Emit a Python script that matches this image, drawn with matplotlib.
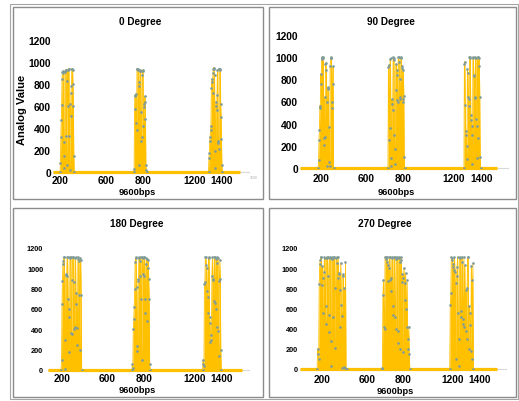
import matplotlib.pyplot as plt
from matplotlib.patches import Rectangle
import numpy as np

plt.rcParams['font.family'] = ['Liberation Sans', 'DejaVu Sans']

# ---- data ----
titles = ['0 Degree', '90 Degree', '180 Degree', '270 Degree']
tick_pos = [200, 540, 815, 1195, 1400]
tick_labels = ['200', '600', '800', '1200', '1400']
y_ticks = [0, 200, 400, 600, 800, 1000, 1200]

# first / last sample of each recording
rec_start = [148, 42, 95, 33]
rec_end = [1533, 1520, 1550, 1529]
sample_step = [3, 3.2, 3.5, 4]

# start sample of each burst
p1_starts = [200, 746, 1300]
p2_starts = [178, 701, 1270]
p3_starts = [193, 724, 1254]
p4_starts = [163, 656, 1172]

p1_b1 = [0, 80, 320, 470, 610, 850, 910, 920, 900, 270, 150, 40, 910, 920, 930, 930, 330, 60,
         830, 930, 600, 940, 940, 330, 20, 620, 510, 720, 780, 940, 940, 930, 800, 600, 150, 0]
p1_b2 = [0, 30, 570, 700, 690, 710, 450, 380, 940, 940, 930, 940, 780, 820, 60, 920, 930, 920,
         550, 280, 320, 880, 930, 920, 420, 620, 590, 640, 690, 480, 60, 20, 0]
p1_b3 = [0, 130, 170, 280, 320, 380, 420, 760, 820, 850, 720, 900, 940, 950, 940, 880, 190, 40,
         600, 640, 560, 700, 930, 280, 260, 210, 940, 940, 930, 940, 620, 500, 300, 60, 0]

p2_b1 = [0, 70, 250, 340, 560, 540, 850, 760, 980, 990, 1000, 1000, 990, 270, 210, 640, 280, 940,
         950, 880, 600, 20, 720, 730, 710, 50, 370, 20, 920, 990, 1000, 990, 600, 540, 760, 920, 0]
p2_b2 = [0, 910, 930, 250, 360, 980, 990, 90, 20, 620, 580, 520, 1000, 990, 970, 300, 170, 40,
         700, 940, 610, 880, 840, 600, 1000, 1000, 960, 800, 620, 640, 990, 1000, 900, 920, 620,
         600, 880, 650, 100, 0]
p2_b3 = [0, 940, 960, 570, 330, 300, 200, 80, 890, 860, 640, 620, 560, 1000, 1000, 990, 480, 430,
         380, 300, 40, 1000, 990, 840, 830, 630, 640, 1000, 990, 440, 380, 90, 1000, 1000, 270,
         920, 990, 640, 100, 0]

p3_b1 = [0, 100, 650, 880, 1040, 1070, 1110, 1110, 300, 10, 930, 940, 920, 1110, 1110, 700, 600,
         520, 180, 1100, 1110, 1110, 360, 350, 890, 1110, 1110, 870, 400, 420, 1100, 1110, 650,
         760, 410, 250, 1090, 1110, 1070, 740, 200, 1100, 1080, 740, 0]
p3_b2 = [0, 60, 20, 400, 500, 620, 800, 1060, 1100, 1110, 820, 240, 190, 880, 900, 1110, 1100,
         920, 1070, 1110, 700, 100, 1110, 1100, 940, 920, 1110, 1110, 700, 560, 1040, 1100, 1090,
         480, 1000, 1080, 900, 700, 60, 0]
p3_b3 = [0, 100, 60, 40, 850, 870, 1110, 1110, 1030, 1000, 780, 720, 560, 1110, 1100, 520, 460,
         280, 300, 340, 920, 1110, 900, 890, 680, 1110, 1110, 660, 600, 1090, 1050, 420, 1110,
         1100, 380, 140, 880, 1080, 900, 200, 0]

p4_b1 = [0, 200, 150, 100, 840, 1040, 1080, 1110, 1110, 830, 1020, 560, 900, 960, 1110, 1100, 450,
         620, 1100, 1110, 1110, 920, 540, 370, 1110, 1100, 280, 30, 1110, 1090, 1100, 520, 1110,
         1110, 210, 800, 1100, 1110, 1050, 900, 1110, 950, 940, 420, 780, 1050, 630, 530, 10, 940,
         920, 20, 800, 10, 1060, 0, 0]
p4_b2 = [0, 10, 730, 880, 420, 400, 1110, 1110, 1090, 1060, 1110, 1030, 870, 1000, 1110, 1110,
         880, 900, 770, 1110, 1100, 620, 540, 1110, 1110, 520, 400, 1090, 1110, 1100, 380, 260,
         1110, 1100, 1060, 200, 1110, 1080, 860, 940, 170, 900, 1000, 850, 680, 950, 600, 420,
         880, 300, 200, 420, 150, 0]
p4_b3 = [0, 630, 750, 1110, 1080, 1100, 1040, 1010, 980, 1110, 960, 100, 850, 920, 1010, 1110,
         560, 300, 30, 1100, 1110, 580, 520, 1110, 1060, 500, 450, 1110, 420, 1030, 380, 780, 300,
         800, 1110, 1110, 200, 620, 560, 440, 180, 1020, 880, 100, 1050, 0]

bursts = [
    (p1_starts, [p1_b1, p1_b2, p1_b3]),
    (p2_starts, [p2_b1, p2_b2, p2_b3]),
    (p3_starts, [p3_b1, p3_b2, p3_b3]),
    (p4_starts, [p4_b1, p4_b2, p4_b3]),
]

# ---- layout (pixels) ----
W, H = 519, 402
fig = plt.figure(figsize=(W / 100, H / 100), dpi=100)

# plot areas: left, top(1200), right(1600), bottom(0)
areas = [(53, 41, 249, 173), (300, 36, 508, 169), (48, 249, 248.7, 371), (300, 249, 506, 370)]
frames = [(13, 8, 263, 200), (269, 8, 516, 200), (13, 209, 263, 398), (269, 209, 516, 398)]
title_xy = [(140, 22), (391, 22), (137, 224), (385, 224)]
xlab_xy = [(137, 193), (396, 193), (137, 391), (395, 392)]
ytick_size = [7.4, 7.4, 5.3, 5.3]
ytick_pad = [1.5, 1.5, 3.5, 1.5]
xtick_pad = [2, 3.6, 2, 3.5]

yellow = '#FFC000'
dot = '#7F9C9A'

fig.patches.append(Rectangle((10 / W, 1 - 400 / H), 508 / W, 395 / H, transform=fig.transFigure,
                             fill=False, ec='#A6A6A6', lw=0.8))
for l, t, r, b in frames:
    fig.patches.append(Rectangle((l / W, 1 - b / H), (r - l) / W, (b - t) / H,
                                 transform=fig.transFigure, fill=False, ec='#8C8C8C', lw=1))

for i in range(4):
    l, t, r, b = areas[i]
    ax = fig.add_axes([l / W, 1 - b / H, (r - l) / W, (b - t) / H])
    ax.set_xlim(rec_start[i], 1600)
    ax.set_ylim(0, 1200)
    for s in ax.spines.values():
        s.set_visible(False)
    ax.patch.set_alpha(0)

    ax.plot([rec_start[i], 1600], [0, 0], color='#D9D9D9', lw=0.8, clip_on=False)
    ax.plot([rec_start[i], rec_end[i]], [0, 0], color=yellow, lw=2.3, clip_on=False,
            solid_capstyle='butt')

    starts, blocks = bursts[i]
    for st, vals in zip(starts, blocks):
        x = st + sample_step[i] * np.arange(len(vals))
        ax.fill_between(x, 0, vals, color=yellow, lw=0)
        ax.plot(x, vals, color=yellow, lw=0.6)
        ax.plot(x, vals, 'o', ms=1.9, color=dot, mec='none')

    ax.set_yticks(y_ticks)
    ax.set_yticklabels([str(v) for v in y_ticks], fontsize=ytick_size[i], fontweight='bold')
    ax.set_xticks(tick_pos)
    ax.set_xticklabels(tick_labels, fontsize=7.3, fontweight='bold')
    ax.tick_params(axis='y', length=0, pad=ytick_pad[i])
    ax.tick_params(axis='x', length=0, pad=xtick_pad[i])

    fig.text(title_xy[i][0] / W, 1 - title_xy[i][1] / H, titles[i], ha='center', va='center',
             fontsize=7.2, fontweight='bold')
    fig.text(xlab_xy[i][0] / W, 1 - xlab_xy[i][1] / H, '9600bps', ha='center', va='center',
             fontsize=6.7, fontweight='bold')

fig.text(22 / W, 1 - 110 / H, 'Analog Value', rotation=90, ha='center', va='center',
         fontsize=8, fontweight='bold')
fig.text(254 / W, 1 - 178 / H, '1600', ha='center', va='center', fontsize=2.5, color='#AAAAAA')

fig.savefig('out.png', dpi=100)
